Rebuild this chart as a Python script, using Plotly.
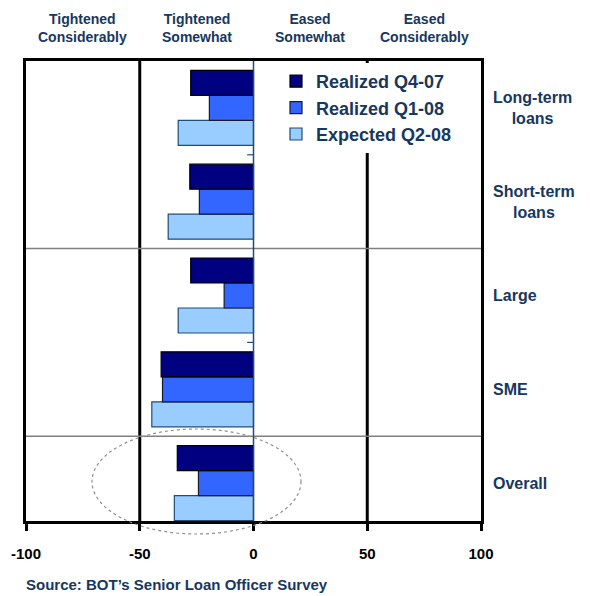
import plotly.graph_objects as go

categories = ["Long-term loans", "Short-term loans", "Large", "SME", "Overall"]
category_labels = ["Long-term<br>loans", "Short-term<br>loans", "Large", "SME", "Overall"]
realized_q4_07 = [-27.6, -28.0, -27.6, -40.6, -33.5]
realized_q1_08 = [-19.4, -23.8, -12.9, -40.0, -24.2]
expected_q2_08 = [-33.1, -37.5, -33.1, -44.7, -34.8]
x_ticks = [-100, -50, 0, 50, 100]
x_tick_labels = ["-100", "-50", "0", "50", "100"]
header_positions = [-75, -25, 25, 75]
header_labels = ["Tightened<br>Considerably", "Tightened<br>Somewhat", "Eased<br>Somewhat", "Eased<br>Considerably"]

TEXT = "#17375E"
FONT = "Liberation Sans, Arial, sans-serif"

series = [
    ("Expected Q2-08", expected_q2_08, "#99CCFF", "#1F4E79"),
    ("Realized Q1-08", realized_q1_08, "#3366FF", "#1a1a2e"),
    ("Realized Q4-07", realized_q4_07, "#000080", "#000000"),
]

fig = go.Figure()
for name, vals, color, lc in series:
    fig.add_trace(go.Bar(
        y=categories, x=vals, name=name, orientation="h",
        marker=dict(color=color, line=dict(color=lc, width=1.2)),
        legendgroup=name,
    ))

OFF = 8  # page body margin
W, H = 580, 588
L, T = 26 - OFF, 61 - OFF
R = W - (481 - OFF)
B = H - (521 - OFF)
pw, ph = W - L - R, H - T - B

def px_x(p):
    return (p - OFF - L) / pw

def px_y(p):
    return (H - B - (p - OFF)) / ph

shapes = []
for xv in [-50, 50]:
    shapes.append(dict(type="line", xref="x", yref="paper", x0=xv, x1=xv, y0=0, y1=1,
                       line=dict(color="black", width=3), layer="below"))
for yv in [2.5, 0.5]:
    shapes.append(dict(type="line", xref="paper", yref="y", x0=0, x1=1, y0=yv, y1=yv,
                       line=dict(color="#808080", width=1.5), layer="below"))
for yv in [3.5, 1.5]:
    shapes.append(dict(type="line", xref="x", yref="y", x0=-2.8, x1=0, y0=yv, y1=yv,
                       line=dict(color="#1F4E79", width=1.2), layer="above"))
shapes.append(dict(type="line", xref="x", yref="paper", x0=0, x1=0, y0=0, y1=1,
                   line=dict(color="#1F4E79", width=1.5), layer="above"))
shapes.append(dict(type="circle", xref="paper", yref="paper",
                   x0=px_x(92), x1=px_x(301), y0=px_y(534), y1=px_y(429),
                   line=dict(color="#909090", width=1.2, dash="dot"), layer="above"))

annotations = []
for c, lab in zip(categories, category_labels):
    annotations.append(dict(xref="paper", yref="y", x=1, y=c, xanchor="left", xshift=10,
                            text=lab, showarrow=False, align="center",
                            font=dict(family=FONT, size=16, color=TEXT, weight="bold")))
for xv, lab in zip(header_positions, header_labels):
    annotations.append(dict(xref="x", yref="paper", x=xv, y=px_y(28), yanchor="middle",
                            text=lab, showarrow=False, align="center",
                            font=dict(family=FONT, size=14, color=TEXT, weight="bold")))
annotations.append(dict(xref="paper", yref="paper", x=px_x(24), y=px_y(584), xanchor="left",
                        yanchor="middle", text="Source: BOT’s Senior Loan Officer Survey",
                        showarrow=False,
                        font=dict(family=FONT, size=15, color=TEXT, weight="bold")))

fig.update_layout(
    width=W, height=H, margin=dict(l=L, r=R, t=T, b=B, autoexpand=False),
    paper_bgcolor="white", plot_bgcolor="white",
    barmode="group", bargap=0.2, bargroupgap=0,
    shapes=shapes, annotations=annotations,
    legend=dict(x=px_x(276), y=px_y(63), xanchor="left", yanchor="top",
                traceorder="reversed", tracegroupgap=10, bgcolor="white",
                font=dict(family=FONT, size=18, color=TEXT, weight="bold")),
    xaxis=dict(range=[-100, 100], tickvals=x_ticks, ticktext=x_tick_labels,
               ticks="outside", ticklen=7, tickwidth=3, automargin=False,
               tickcolor="black", showgrid=False, zeroline=False, ticklabelstandoff=10,
               showline=True, linecolor="black", linewidth=3, mirror=True,
               tickfont=dict(family=FONT, size=15, color="black", weight="bold")),
    yaxis=dict(categoryorder="array", categoryarray=categories[::-1], automargin=False,
               range=[-0.404, 4.5], showticklabels=False, ticks="", showgrid=False,
               zeroline=False, showline=True, linecolor="black", linewidth=3, mirror=True),
)

fig.write_html("out.html")
